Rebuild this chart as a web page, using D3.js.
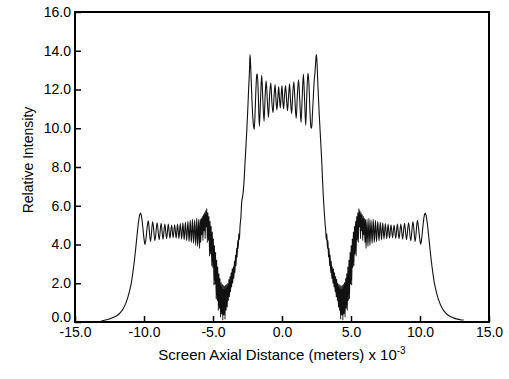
<!DOCTYPE html>
<html>
<head>
<meta charset="utf-8">
<script src="https://cdn.jsdelivr.net/npm/d3@7"></script>
<style>
  html, body { margin: 0; padding: 0; background: #fff; }
  svg { display: block; }
  text { font-family: "Liberation Sans", Arial, Helvetica, sans-serif; fill: #000; }
</style>
</head>
<body>
<svg id="chart" width="509" height="379"></svg>
<script>
// ---- data ----
const xTicks = [-15, -10, -5, 0, 5, 10, 15];
const xTickLabels = ["-15.0", "-10.0", "-5.0", "0.0", "5.0", "10.0", "15.0"];
const yTicks = [0, 2, 4, 6, 8, 10, 12, 14, 16];
const yTickLabels = ["0.0", "2.0", "4.0", "6.0", "8.0", "10.0", "12.0", "14.0", "16.0"];
const xTitle = "Screen Axial Distance (meters) x 10";
const xTitleExp = "-3";
const yTitle = "Relative Intensity";

const leftWing = [[-13.10,0.05],[-12.80,0.10],[-12.50,0.16],[-12.20,0.24],[-11.90,0.36],[-11.70,0.50],[-11.50,0.70],[-11.30,1.00],[-11.15,1.32],[-11.00,1.75],[-10.90,2.10],[-10.80,2.60],[-10.70,3.15],[-10.60,3.80],[-10.50,4.50],[-10.40,5.15],[-10.32,5.50],[-10.26,5.62],[-10.18,5.45],[-10.08,4.85],[-10.00,4.30],[-9.93,4.00],[-9.85,4.35],[-9.76,4.95],[-9.69,5.22],
[-9.53,4.15],[-9.37,5.18],[-9.21,4.20],[-9.05,5.12],[-8.90,4.25],[-8.76,5.10],[-8.62,4.28],[-8.49,5.05],[-8.36,4.30],[-8.24,5.05],[-8.12,4.32],[-8.00,5.00],[-7.89,4.35],[-7.78,5.02],[-7.67,4.33],[-7.57,5.05],[-7.47,4.30],[-7.37,5.08],[-7.27,4.28],[-7.18,5.12],[-7.09,4.25],[-7.00,5.15],[-6.91,4.20],[-6.82,5.20],[-6.73,4.15],[-6.65,5.25],[-6.57,4.10],[-6.49,5.30],[-6.41,4.05],[-6.33,5.28],[-6.25,3.95],[-6.18,5.35],[-6.11,3.90],[-6.04,5.30],[-5.97,3.80]];

const leftDip = [[-5.93,5.30],[-5.89,4.10],[-5.85,5.35],[-5.81,4.50],[-5.77,5.45],[-5.73,4.20],[-5.69,5.55],[-5.65,4.70],[-5.61,5.65],[-5.57,4.30],[-5.53,5.75],[-5.49,4.90],[-5.45,5.85],[-5.41,4.10],[-5.37,5.65],[-5.33,4.20],[-5.29,5.45],[-5.25,3.40],[-5.21,5.20],[-5.17,3.50],[-5.13,4.95],[-5.09,2.90],[-5.05,4.65],[-5.01,2.80],[-4.97,4.30],[-4.93,1.90],[-4.89,3.95],[-4.85,1.95],[-4.81,3.60],[-4.77,1.20],[-4.73,3.20],[-4.69,1.10],[-4.65,2.85],[-4.61,0.60],[-4.57,2.50],[-4.53,0.70],[-4.49,2.25],[-4.45,0.25],[-4.41,2.05],[-4.37,0.40],[-4.33,1.95],[-4.29,0.10],[-4.25,1.90],[-4.21,0.35],[-4.17,1.85],[-4.13,0.15],[-4.09,1.90],[-4.05,0.60],[-4.01,1.95],[-3.97,0.75],[-3.93,2.00],[-3.89,1.10],[-3.85,2.20],[-3.81,1.30],[-3.77,2.35],[-3.73,1.55],[-3.69,2.55],[-3.65,1.80],[-3.61,2.75],[-3.57,2.00],[-3.53,2.85],[-3.49,2.25],[-3.45,3.15],[-3.41,2.55],[-3.37,3.45],[-3.33,2.90],[-3.29,3.80],[-3.25,3.35],[-3.21,4.20],[-3.17,3.80],[-3.13,4.55],[-3.09,4.25]];

const centerLobe = [[-3.04,4.95],[-2.98,5.40],[-2.92,6.20],[-2.86,6.45],[-2.80,6.80],[-2.74,7.40],[-2.68,8.20],[-2.62,9.00],[-2.56,9.75],[-2.51,10.50],[-2.46,11.30],[-2.42,12.00],[-2.38,12.60],[-2.35,13.10],[-2.32,13.80],[-2.28,13.40],[-2.24,12.60],[-2.18,11.50],[-2.12,10.60],[-2.06,10.10],[-2.01,9.95],[-1.95,10.80],[-1.89,12.00],[-1.83,12.75],[-1.79,12.80],[-1.72,11.80],[-1.64,10.10],[-1.55,11.60],[-1.47,12.75],[-1.39,11.50],[-1.30,10.35],[-1.22,11.70],[-1.15,12.45],[-1.06,11.40],[-0.98,10.55],[-0.89,11.80],[-0.81,12.35],[-0.73,11.30],[-0.65,10.80],[-0.57,11.70],[-0.50,12.25],[-0.43,11.40],[-0.37,10.95],[-0.30,11.60],[-0.24,12.15],[-0.18,11.50],[-0.12,11.05],[-0.06,11.70],[0.00,12.20],[0.06,11.40],[0.12,11.00],[0.18,11.65],[0.26,12.20],[0.33,11.50],[0.40,10.90],[0.47,11.60],[0.55,12.30],[0.62,11.40],[0.70,10.75],[0.78,11.80],[0.86,12.40],[0.94,11.40],[1.03,10.50],[1.12,11.80],[1.20,12.50],[1.29,11.40],[1.38,10.30],[1.47,11.70],[1.55,12.80],[1.63,11.60],[1.72,10.15],[1.80,11.80],[1.88,12.85],[1.95,12.30],[2.03,10.80],[2.10,10.05],[2.15,10.00],[2.21,10.80],[2.27,11.60],[2.33,12.40],[2.39,12.90],[2.44,13.40],[2.49,13.80],[2.53,13.50],[2.58,12.60],[2.64,11.60],[2.70,10.70],[2.76,9.90],[2.82,9.10],[2.88,8.30],[2.94,7.30],[3.00,6.40],[3.06,5.70],[3.12,5.10],[3.17,4.70]];

const rightDip = [[3.21,4.25],[3.25,4.55],[3.29,3.80],[3.33,4.20],[3.37,3.35],[3.41,3.80],[3.45,2.90],[3.49,3.45],[3.53,2.55],[3.57,3.15],[3.61,2.25],[3.65,2.85],[3.69,2.00],[3.73,2.75],[3.77,1.80],[3.81,2.55],[3.85,1.55],[3.89,2.35],[3.93,1.30],[3.97,2.20],[4.01,1.10],[4.05,2.00],[4.09,0.75],[4.13,1.95],[4.17,0.60],[4.21,1.90],[4.25,0.15],[4.29,1.85],[4.33,0.35],[4.37,1.90],[4.41,0.10],[4.45,1.95],[4.49,0.40],[4.53,2.05],[4.57,0.25],[4.61,2.25],[4.65,0.70],[4.69,2.50],[4.73,0.60],[4.77,2.85],[4.81,1.10],[4.85,3.20],[4.89,1.20],[4.93,3.60],[4.97,1.95],[5.01,3.95],[5.05,1.90],[5.09,4.30],[5.13,2.80],[5.17,4.65],[5.21,2.90],[5.25,4.95],[5.29,3.50],[5.33,5.20],[5.37,3.40],[5.41,5.45],[5.45,4.20],[5.49,5.65],[5.53,4.10],[5.57,5.85],[5.61,4.90],[5.65,5.75],[5.69,4.30],[5.73,5.65],[5.77,4.70],[5.81,5.55],[5.85,4.20],[5.89,5.45],[5.93,4.50],[5.97,5.35],[6.01,4.10],[6.05,5.30]];

const rightWing = [[6.09,3.80],[6.16,5.30],[6.23,3.90],[6.30,5.35],[6.37,3.95],[6.45,5.28],[6.53,4.05],[6.61,5.30],[6.69,4.10],[6.77,5.25],[6.85,4.15],[6.94,5.20],[7.03,4.20],[7.12,5.15],[7.21,4.25],[7.30,5.12],[7.39,4.28],[7.49,5.08],[7.59,4.30],[7.69,5.05],[7.79,4.33],[7.90,5.02],[8.01,4.35],[8.12,5.00],[8.24,4.32],[8.36,5.05],[8.48,4.30],[8.61,5.05],[8.74,4.28],[8.88,5.10],[9.02,4.25],[9.17,5.12],[9.33,4.20],[9.49,5.18],[9.65,4.15],[9.81,5.25],
[9.88,4.95],[9.97,4.35],[10.05,4.02],[10.12,4.30],[10.20,4.85],[10.30,5.45],[10.38,5.62],[10.44,5.50],[10.52,5.15],[10.62,4.50],[10.72,3.80],[10.82,3.15],[10.92,2.60],[11.02,2.10],[11.12,1.75],[11.27,1.32],[11.42,1.00],[11.62,0.70],[11.82,0.50],[12.02,0.36],[12.32,0.24],[12.62,0.16],[12.92,0.12],[13.16,0.10]];

const profile = [].concat(leftWing, leftDip, centerLobe, rightDip, rightWing);

// ---- layout ----
const plot = { left: 75, right: 489, top: 12, bottom: 322 };
const svg = d3.select("#chart");

const x = d3.scaleLinear().domain([-15, 15]).range([plot.left, plot.right]);
const y = d3.scaleLinear().domain([0, 16]).range([plot.bottom, plot.top]);

// x axis (inward ticks)
const xAxis = d3.axisBottom(x).tickValues(xTicks)
  .tickFormat((d, i) => xTickLabels[i]).tickSize(-6).tickPadding(5);
const gx = svg.append("g").attr("transform", `translate(0,${plot.bottom})`).call(xAxis);
gx.select(".domain").remove();
gx.selectAll(".tick line").attr("stroke", "#000").attr("stroke-width", 1.5);
gx.selectAll(".tick text").attr("font-size", 14).attr("font-family", "Liberation Sans, Arial, sans-serif");

// y axis (inward ticks)
const yAxis = d3.axisLeft(y).tickValues(yTicks)
  .tickFormat((d, i) => yTickLabels[i]).tickSize(-6).tickPadding(4);
const gy = svg.append("g").attr("transform", `translate(${plot.left},0)`).call(yAxis);
gy.select(".domain").remove();
gy.selectAll(".tick line").attr("stroke", "#000").attr("stroke-width", 1.5);
gy.selectAll(".tick text").attr("font-size", 14).attr("font-family", "Liberation Sans, Arial, sans-serif")
  .attr("dy", d => d === 0 ? "-0.05em" : "0.32em");

// curve
const line = d3.line()
  .x(d => x(d[0]))
  .y(d => y(d[1]))
  .curve(d3.curveMonotoneX);
svg.append("path")
  .datum(profile)
  .attr("d", line)
  .attr("fill", "none")
  .attr("stroke", "#111")
  .attr("stroke-width", 1.1)
  .attr("stroke-linejoin", "round");

// frame
svg.append("rect")
  .attr("x", plot.left).attr("y", plot.top)
  .attr("width", plot.right - plot.left).attr("height", plot.bottom - plot.top)
  .attr("fill", "none").attr("stroke", "#000").attr("stroke-width", 2);

// titles
const xt = svg.append("text")
  .attr("x", (plot.left + plot.right) / 2).attr("y", 360)
  .attr("text-anchor", "middle").attr("font-size", 15);
xt.append("tspan").text(xTitle);
xt.append("tspan").attr("font-size", 10).attr("dy", -6).text(xTitleExp);

svg.append("text")
  .attr("transform", "translate(33,160) rotate(-90)")
  .attr("text-anchor", "middle").attr("font-size", 14)
  .text(yTitle);
</script>
</body>
</html>
